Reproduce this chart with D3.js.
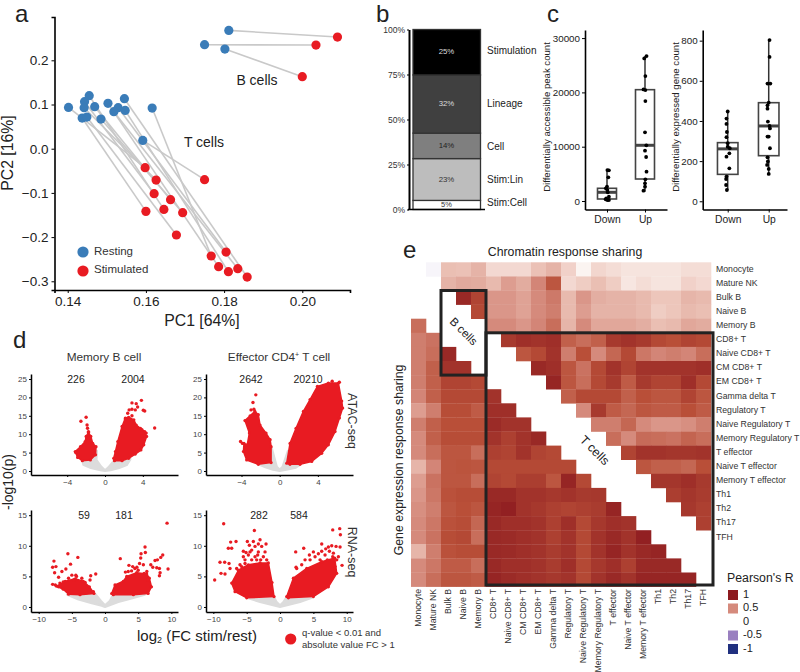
<!DOCTYPE html>
<html><head><meta charset="utf-8">
<script src="https://cdn.jsdelivr.net/npm/d3@7/dist/d3.min.js"></script>
<style>
html,body{margin:0;padding:0;background:#fff}
svg{display:block}
text{font-family:"Liberation Sans",Arial,sans-serif}
</style></head><body>
<svg id="c" width="800" height="672"></svg>
<script>
// ---------- panel a: PCA, [PC1, PC2]
const tRest=[[.1402,.0935],[.1443,.1063],[.1455,.1199],[.1442,.0928],[.1469,.095],[.1503,.1026],[.1545,.1131],[.1529,.0928],[.1518,.0837],[.1547,.0867],[.1616,.0920],[.1437,.0694],[.1449,.0716],[.1485,.0671],[.1592,.0188]];
const tStim=[[.1598,-.0430],[.1626,-.0709],[.1621,-.1018],[.1663,-.1154],[.1646,-.1373],[.1694,-.1448],[.1600,-.1418],[.1678,-.1953],[.1750,-.0701],[.1805,-.2338],[.1767,-.2428],[.1786,-.2670],[.1811,-.2783],[.1835,-.2715],[.1859,-.2904]];
const tPairs=[[0,0],[1,2],[2,4],[3,1],[4,3],[11,6],[12,7],[13,5],[5,11],[7,9],[6,14],[9,12],[8,13],[10,10],[14,8]];
const bRest=[[.1812,.2677],[.1750,.2353],[.1802,.2255]];
const bStim=[[.2090,.2526],[.2035,.2345],[.2000,.1629]];
const pcXTicks=[.14,.16,.18,.20], pcYTicks=[.2,.1,0,-.1,-.2,-.3];
// ---------- panel b: variance shares
const shareNames=["Stim:Cell","Stim:Lin","Cell","Lineage","Stimulation"];
const shareValues=[5,23,14,32,25];
const shareFills=["#ffffff","#bdbdbd","#7f7f7f","#404040","#000000"];
const shareText=["#333","#333","#222","#ddd","#ddd"];
const shareTicks=[0,25,50,75,100];
// ---------- panel c: [category + jitter, count]
const catNames=["Down","Up"];
const peakDown=[[.01,5700],[.05,5640],[.035,4360],[0,2640],[-.03,2330],[.01,2020],[.02,1600],[.05,800],[-.02,490],[.01,180],[.05,180],[-.035,310]];
const peakUp=[[1.04,26690],[.98,26260],[1.01,23000],[.96,20550],[1.01,20430],[1.01,18400],[1,12640],[1.035,10250],[1,9260],[1.03,8100],[1.04,5400],[1.01,3990],[1,3250],[1,2640],[.96,1900]];
const peakBox=[{lo:0,q1:370,med:1600,q3:2340,hi:5700},{lo:1700,q1:4050,med:10260,q3:20500,hi:26700}];
const geneDown=[[0,447],[-.03,412],[-.03,385],[-.02,345],[-.03,319],[0,289],[0,272],[.05,264],[.04,239],[-.03,222],[.04,164],[-.03,123],[-.04,111],[-.04,81],[-.02,56]];
const geneUp=[[1.02,803],[1.02,719],[.97,586],[1.04,586],[1,491],[.97,478],[.97,461],[.98,397],[1.02,375],[1.03,363],[1,322],[.97,322],[1.03,264],[.97,219],[.98,198],[.96,181],[1,161],[1,136]];
const geneBox=[{lo:56,q1:134,med:261,q3:292,hi:447},{lo:136,q1:227,med:375,q3:491,hi:803}];
const tlRedR=[[.92,3.45],[1.1,5.3],[1.35,8],[1.8,12.1],[2.15,14.4],[2.5,14.6],[3.05,13.9],[3.3,12.5],[3.75,11.6],[4.2,10.7],[4.4,9.4],[4.1,7.1],[3.8,5.7],[3.2,4.6],[2.5,3.45],[1.8,2.8],[1,2.8]];
const tlRedL=[[-3.15,5.3],[-2.6,6.6],[-2.1,8],[-2,9.4],[-1.75,10.5],[-1.5,9.4],[-1.3,7.5],[-.95,6.6],[-1,4.4],[-1.55,3],[-2.4,2.8],[-2.9,3.7]];
const tlGrey=[[-2.4,2.8],[-2.3,1.7],[-1.5,.8],[-.5,.2],[0,0],[.6,.2],[1.5,.8],[2.3,1.6],[2.7,3.2],[1,3],[.35,1],[0,.2],[-.4,1.2],[-.9,3],[-.85,5.5],[-1.2,4]];
const tlDots=[[5.25,11.7],[3.85,19.2],[3.45,17.4],[3.3,18.3],[2.85,18.5],[3.2,16.6],[2.85,16.8],[2.55,16.6],[2.4,15.7],[4.05,16.5],[4.2,16.3],[2.15,14.1],[2.85,15],[3.9,9.5],[4.35,10.3],[3.9,11.2],[-2.55,13.5],[-2,14.6],[-1.9,12.5],[-1.85,11.6],[-1.75,10.7],[-3.1,5]];
const trRedR=[[.73,2.1],[1.08,7.5],[1.71,11.6],[2.48,16.2],[3.18,19.4],[3.95,23],[5.1,23.9],[6.15,23.9],[6.5,19],[6.6,17.1],[6.26,14.4],[5.8,10.7],[5.1,7.1],[4.4,4.8],[3.36,2.6],[2.13,1.8],[1.08,1.8]];
const trRedL=[[-3.74,7.5],[-3.4,7.1],[-3.18,10.3],[-3.64,13.7],[-3.1,15],[-2.6,16.2],[-2.24,15.3],[-2.06,12.5],[-1.43,10.3],[-1,8.5],[-.9,6.6],[-.9,2.3],[-2.24,1.8],[-3.46,3],[-3.8,5.3]];
const trGrey=[[-2.24,1.8],[-1.5,1],[-.7,.3],[0,0],[.7,.3],[1.7,.9],[2.2,1.8],[.73,2],[.85,5.5],[.3,1.2],[0,.4],[-.3,1.2],[-.85,6.5],[-.9,2]];
const trDots=[[5.5,24.4],[6.25,24.1],[-2.5,20.7],[-2.8,18.6],[-2.7,16.8],[-3,16.6],[-4.1,8],[-3.9,7.5]];
const blRedR=[[1,2.2],[1.5,3.6],[2.76,4.2],[3.27,5],[4.77,5.6],[6.28,5.4],[6.68,4.7],[7,3.3],[6.5,2.2],[4.27,2],[1.25,2]];
const blRedL=[[-7.3,3.4],[-6,4.2],[-4.5,4.6],[-3.27,4.2],[-2.36,3.3],[-1.66,2.2],[-3.77,2],[-5.5,2.1],[-6.3,2.9]];
const blGrey=[[-5.7,2],[-4,1.2],[-2,.6],[-.5,.2],[0,0],[.5,.2],[2,.8],[4,1.4],[6,2],[1.2,2],[.7,1],[0,.3],[-.6,1],[-1.5,2.2]];
const blDots=[[9.35,13.7],[9.5,6.2],[6.03,9.8],[6.08,8.9],[5.43,8.7],[5.38,8],[2.3,7.9],[5.2,7.1],[5.78,6.9],[8.7,8.5],[8.4,8.1],[7.54,7.6],[7.9,7.7],[6.9,6.9],[7.2,6.5],[7.8,6.4],[8.2,6.3],[8.3,5.6],[8.2,5.1],[3.6,6.8],[3.07,5.7],[4.17,6.6],[4.8,6.5],[4,5.9],[5,6],[4.5,6.3],[3.5,5.8],[6.3,5.8],[5.9,5.5],[6.5,4.4],[-5.6,8.7],[-4.1,8.1],[-7.7,7.5],[-7.9,6.5],[-7.4,6.6],[-7.6,5.6],[-7.9,3.7],[-6.5,5.8],[-5.2,7],[-5.9,6.2],[-1.4,5.4],[-2.26,4.4],[-2.16,5.1],[-3,4],[-1.76,2.5],[-7,4.85],[-4.4,5.2],[-5,5.2],[-4.3,5],[-5.5,4.7],[-6.3,4.1],[-6.8,3.9],[-3.5,4.7],[-4.7,4.4],[-7.5,3.6],[-7,3.3]];
const brRedL=[[-7.25,3.9],[-6.25,6],[-4.75,6.9],[-3,7.2],[-1.75,7.2],[-1.2,4],[-.9,1.7],[-5,1.5],[-6.75,2.5]];
const brRedR=[[1,1.7],[2,4.7],[4,6.3],[6.25,7.4],[8.2,8],[8.5,5.5],[7.25,3.3],[5,1.7],[1.25,1.5]];
const brGrey=[[-5,1.5],[-3,.8],[-1.5,.4],[0,0],[1.5,.4],[3,.8],[5,1.6],[1,1.7],[.5,.8],[0,.3],[-.5,.8],[-.9,1.7]];
const brDots=[[-8.45,13.6],[-3.85,12.5],[-3,11],[-4,10.7],[-4.9,10.7],[-2.1,10.3],[-3.25,10.3],[-4.6,10.1],[-6.6,10.7],[-7.4,10.6],[-7.75,9.6],[-7.25,9.6],[-9,7.3],[-8.3,7.3],[-7.65,7.1],[-8.85,5.5],[-8.25,5.4],[-7.5,6.3],[-9.8,4.4],[-5.5,8.2],[-4.5,9],[-3.25,9],[-2.25,9],[-2.5,8.2],[-3.75,8.2],[-5.25,7.1],[-2,7.7],[-6,6.9],[-6.5,6.3],[-5.75,6.6],[-5.25,7.7],[-4.25,7.7],[-3.5,7.7],[-2.9,7.7],[-4.25,9.3],[-3.75,9.9],[-2.75,9.9],[-5.1,8.9],[-5.5,9.1],[-4.75,8.5],[-3.35,8.5],[7.9,12.6],[8.95,12.8],[9.05,11.8],[6.25,10.3],[7.25,9.8],[5,9],[2.35,9],[3.55,9.6],[8.4,9.9],[9,9.8],[7.75,10],[6.85,9.5],[8,8.8],[8.75,8.2],[9.3,6.8],[4.4,8.5],[2.4,6.5],[3.25,6.9],[8.5,7.7],[8.25,6.6],[3.75,7.7],[4.5,7.7],[5.25,8.2],[5.75,8.7],[6.25,9.1],[6.75,8.5],[7.4,9.1],[7.9,8.2],[7.1,7.7],[6,7.7],[2.5,6.3]];
const atacYTicks=[0,5,10,15,20,25], rnaYTicks=[0,5,10,15];
const atacXTicks=[-4,0,4], rnaXTicks=[-10,-5,0,5,10];
// ---------- panel e: Pearson's R
const cellTypes=["Monocyte","Mature NK","Bulk B","Naive B","Memory B","CD8+ T","Naive CD8+ T","CM CD8+ T","EM CD8+ T","Gamma delta T","Regulatory T","Naive Regulatory T","Memory Regulatory T","T effector","Naive T effector","Memory T effector","Th1","Th2","Th17","TFH"];
// chromatin: row i holds columns i+1 to 19
const chromatin=[
[-.04,.28,.27,.33,.17,.17,.17,.27,.33,.2,.05,.18,.15,.12,.12,.12,.12,.15,.15],
[.33,.37,.36,.3,.42,.36,.52,.72,.17,.22,.28,.22,.11,.15,.12,.12,.2,.17],
[.93,.8,.45,.45,.4,.5,.57,.3,.45,.35,.33,.33,.3,.25,.25,.32,.3],
[.78,.45,.45,.4,.5,.55,.3,.42,.33,.33,.33,.3,.22,.25,.3,.28],
[.5,.5,.45,.52,.62,.32,.5,.38,.38,.38,.35,.28,.3,.38,.36],
[.85,.9,.88,.9,.68,.62,.68,.85,.88,.85,.78,.75,.8,.78],
[.72,.78,.88,.55,.75,.5,.65,.78,.58,.52,.55,.52,.62],
[.93,.9,.72,.6,.78,.88,.8,.88,.88,.88,.88,.9],
[.95,.72,.62,.78,.85,.7,.85,.8,.8,.9,.78],
[.68,.78,.78,.78,.68,.75,.72,.72,.8,.72],
[.5,.85,.7,.65,.72,.7,.7,.75,.7],
[.55,.55,.65,.5,.45,.45,.48,.55],
[.62,.5,.63,.62,.6,.66,.62],
[.8,.88,.88,.87,.87,.88],
[.72,.68,.68,.65,.75],
[.87,.87,.9,.85],
[.83,.87,.84],
[.86,.82],
[.82]];
// expression: column c holds rows c+1 to 19
const expression=[
[.62,.55,.55,.55,.55,.52,.42,.55,.5,.5,.32,.42,.45,.48,.5,.5,.32,.5,.5],
[.6,.62,.68,.68,.68,.55,.68,.68,.62,.52,.6,.58,.55,.58,.6,.55,.58,.62],
[.93,.88,.8,.78,.76,.75,.76,.72,.72,.72,.74,.72,.74,.76,.74,.7,.72],
[.88,.8,.78,.76,.75,.76,.72,.73,.72,.76,.75,.76,.78,.76,.7,.72],
[.78,.78,.7,.75,.76,.62,.72,.62,.76,.72,.65,.62,.76,.62,.7],
[.88,.9,.92,.88,.82,.78,.8,.93,.95,.93,.93,.93,.93,.95],
[.9,.88,.82,.8,.78,.78,.93,.97,.9,.92,.92,.9,.92],
[.88,.88,.88,.78,.83,.88,.88,.9,.9,.9,.9,.9],
[.93,.8,.78,.83,.88,.86,.88,.88,.88,.88,.88],
[.78,.78,.72,.86,.82,.82,.82,.84,.84,.86],
[.78,.95,.88,.8,.9,.88,.88,.9,.88],
[.78,.85,.82,.78,.78,.78,.78,.78],
[.86,.84,.86,.88,.88,.86,.88],
[.95,.9,.93,.95,.9,.93],
[.88,.88,.88,.82,.88],
[.97,.93,.93,.95],
[.95,.93,.95],
[.93,.95],
[.95]];
const legendR=[1,.5,0,-.5,-1];

const svg=d3.select("#c");
const RED="#e81b22",BLUE="#3a7cb8",GREY="#dcdcdc",LINE="#c9c9c9";
function txt(x,y,s,size,o={}){
  const t=svg.append("text").attr("x",x).attr("y",y).attr("font-size",size).attr("fill",o.fill||"#222")
    .attr("text-anchor",o.anchor||"middle").attr("dominant-baseline",o.base||"middle").text(s);
  if(o.rot!==undefined) t.attr("transform",`rotate(${o.rot},${x},${y})`);
  return t;
}
function axis(a,at,sw,size,color,tickLen){
  const g=svg.append("g").attr("transform",at).call(a);
  g.select(".domain").attr("stroke","#000").attr("stroke-width",sw);
  g.selectAll(".tick line").attr("stroke","#000").attr("stroke-width",Math.max(1,sw*.6));
  g.selectAll(".tick text").attr("font-size",size).attr("fill",color).attr("font-family",'"Liberation Sans",Arial,sans-serif');
  return g;
}
const minus=s=>String(s).replace("-","\u2212");

// ===== a
{
 const x=d3.scaleLinear().domain([.13662,.2122]).range([54.5,350]);
 const y=d3.scaleLinear().domain([-.3197,.298]).range([290,17]);
 const seg=(r,s,p)=>svg.append("line").attr("x1",x(r[p[0]][0])).attr("y1",y(r[p[0]][1])).attr("x2",x(s[p[1]][0])).attr("y2",y(s[p[1]][1])).attr("stroke",LINE).attr("stroke-width",1.6);
 tPairs.forEach(p=>seg(tRest,tStim,p));
 [0,1,2].forEach(i=>seg(bRest,bStim,[i,i]));
 const dots=(d,c)=>svg.append("g").selectAll("circle").data(d).join("circle").attr("cx",p=>x(p[0])).attr("cy",p=>y(p[1])).attr("r",4.6).attr("fill",c);
 dots(tRest.concat(bRest),BLUE); dots(tStim.concat(bStim),RED);
 axis(d3.axisBottom(x).tickValues(pcXTicks).tickFormat(d3.format(".2f")).tickSizeOuter(0).tickSize(3).tickPadding(3),"translate(0,290)",1.6,13.5,"#222");
 axis(d3.axisLeft(y).tickValues(pcYTicks).tickFormat(d=>minus(d3.format(".1f")(d))).tickSizeOuter(0).tickSize(3).tickPadding(3),"translate(54.5,0)",1.6,13.5,"#222");
 txt(202,322,"PC1 [64%]",15.8);
 txt(9,153,"PC2 [16%]",15.8,{rot:-90});
 txt(257,81,"B cells",14);
 txt(204,143,"T cells",14);
 svg.append("circle").attr("cx",83).attr("cy",252).attr("r",5.6).attr("fill",BLUE);
 svg.append("circle").attr("cx",83).attr("cy",271).attr("r",5.6).attr("fill",RED);
 txt(94,252,"Resting",11.5,{anchor:"start",fill:"#333"});
 txt(94,270,"Stimulated",11.5,{anchor:"start",fill:"#333"});
}
// ===== b
{
 const y=d3.scaleLinear().domain([0,1]).range([209.5,29.5]);
 const row=Object.fromEntries(shareNames.map((n,i)=>[n,shareValues[i]]));
 const st=d3.stack().keys(shareNames).offset(d3.stackOffsetExpand)([row]);
 const labelY=[203,180,147,104,51];
 st.forEach((s,i)=>{
  const a=s[0][0],b=s[0][1];
  svg.append("rect").attr("x",413).attr("width",67.5).attr("y",y(b)).attr("height",y(a)-y(b)).attr("fill",shareFills[i]).attr("stroke","#333").attr("stroke-width",1.3);
  txt(446.5,(y(a)+y(b))/2,shareValues[i]+"%",i==0?7.5:7.8,{fill:shareText[i]});
  txt(487,labelY[i],shareNames[i],10,{anchor:"start",fill:"#222"});
 });
 axis(d3.axisLeft(y).tickValues(shareTicks.map(d=>d/100)).tickFormat(d=>Math.round(d*100)+"%").tickSize(2).tickSizeOuter(0).tickPadding(2),"translate(409,0)",2,8.5,"#333");
 svg.append("line").attr("x1",408).attr("x2",485).attr("y1",209.5).attr("y2",209.5).attr("stroke","#000").attr("stroke-width",1.6);
}
// ===== c
function boxPanel(x0,x1,dom,yDom,yTicks,boxes,sets,title,titleX){
 const x=d3.scaleLinear().domain(dom).range([x0,x1]);
 const y=d3.scaleLinear().domain(yDom).range([209.5,30]);
 boxes.forEach((b,i)=>{
  const cx=x(i),w=x(.25)-x(0);
  svg.append("line").attr("x1",cx).attr("x2",cx).attr("y1",y(b.lo)).attr("y2",y(b.hi)).attr("stroke","#333").attr("stroke-width",1.5);
  svg.append("rect").attr("x",cx-w).attr("width",2*w).attr("y",y(b.q3)).attr("height",y(b.q1)-y(b.q3)).attr("fill","#fff").attr("stroke","#444").attr("stroke-width",1.6);
  svg.append("line").attr("x1",cx-w).attr("x2",cx+w).attr("y1",y(b.med)).attr("y2",y(b.med)).attr("stroke","#444").attr("stroke-width",3);
 });
 sets.forEach(d=>svg.append("g").selectAll("circle").data(d).join("circle").attr("cx",p=>x(p[0])).attr("cy",p=>y(p[1])).attr("r",1.9).attr("fill","#000"));
 axis(d3.axisBottom(x).tickValues([0,1]).tickFormat(i=>catNames[i]).tickSize(3).tickSizeOuter(0).tickPadding(3),"translate(0,209.5)",1.6,10.3,"#222");
 axis(d3.axisLeft(y).tickValues(yTicks).tickFormat(d3.format("d")).tickSize(3).tickSizeOuter(0).tickPadding(2),`translate(${x0},0)`,1.6,9.8,"#222");
 txt(titleX,117,title,9.6,{rot:-90});
}
boxPanel(585,667,[-.579,1.579],[-1565,31490],[0,10000,20000,30000],peakBox,[peakDown,peakUp],"Differentially accessible peak count",547);
boxPanel(702.7,787,[-.61,1.446],[-41,853],[0,200,400,600,800],geneBox,[geneDown,geneUp],"Differentially expressed gene count",676);
// ===== d
function volcano(o){
 const x=d3.scaleLinear().domain(o.xd).range(o.xr), y=d3.scaleLinear().domain(o.yd).range(o.yr);
 const line=d3.line().x(p=>x(p[0])).y(p=>y(p[1])).curve(d3.curveLinearClosed);
 svg.append("path").attr("d",line(o.grey)).attr("fill",GREY).attr("stroke",GREY).attr("stroke-width",2).attr("stroke-linejoin","round");
 o.red.forEach(r=>{
  svg.append("path").attr("d",line(r)).attr("fill",RED).attr("stroke",RED).attr("stroke-width",1.5).attr("stroke-linejoin","round");
  svg.append("g").selectAll("circle").data(r).join("circle").attr("cx",p=>x(p[0])).attr("cy",p=>y(p[1])).attr("r",1.6).attr("fill",RED);
 });
 svg.append("g").selectAll("circle").data(o.dots).join("circle").attr("cx",p=>x(p[0])).attr("cy",p=>y(p[1])).attr("r",1.7).attr("fill",RED);
 axis(d3.axisBottom(x).tickValues(o.xt).tickFormat(minus).tickSize(2).tickSizeOuter(0).tickPadding(2),`translate(0,${o.yr[0]})`,1.5,8,"#444");
 axis(d3.axisLeft(y).tickValues(o.yt).tickSize(2).tickSizeOuter(0).tickPadding(2),`translate(${o.xr[0]},0)`,1.5,8,"#444");
 txt(o.n[0],o.ny,o.c[0],10.5); txt(o.n[1],o.ny,o.c[1],10.5);
}
volcano({xd:[-7.83,7.72],xr:[31,178],yd:[-1.09,26.36],yr:[475,374],grey:tlGrey,red:[tlRedR,tlRedL],dots:tlDots,xt:atacXTicks,yt:atacYTicks,n:[76,133],ny:380,c:["226","2004"]});
volcano({xd:[-7.72,7.68],xr:[206,353],yd:[-1.09,26.36],yr:[475,374],grey:trGrey,red:[trRedR,trRedL],dots:trDots,xt:atacXTicks,yt:atacYTicks,n:[251,308],ny:380,c:["2642","20210"]});
volcano({xd:[-11.16,11],xr:[31,178],yd:[-.82,15.85],yr:[612,510],grey:blGrey,red:[blRedR,blRedL],dots:blDots,xt:rnaXTicks,yt:rnaYTicks,n:[84,124],ny:516,c:["59","181"]});
volcano({xd:[-11.1,10.94],xr:[206,353],yd:[-.82,15.85],yr:[612,510],grey:brGrey,red:[brRedR,brRedL],dots:brDots,xt:rnaXTicks,yt:rnaYTicks,n:[259,299],ny:516,c:["282","584"]});
txt(104,358,"Memory B cell",11.8,{fill:"#333"});
{const t=txt(279,358,"",11.8,{fill:"#333"});
 t.append("tspan").text("Effector CD4");
 t.append("tspan").attr("dy",-3).attr("font-size",7).text("+");
 t.append("tspan").attr("dy",3).text(" T cell");}
txt(351,421,"ATAC-seq",12.5,{rot:90,fill:"#333"});
txt(351,552,"RNA-seq",12.5,{rot:90,fill:"#333"});
txt(9,482,"-log10(p)",14,{rot:-90});
{const t=txt(197,637,"",15,{});
 t.append("tspan").text("log");
 t.append("tspan").attr("dy",4).attr("font-size",9).text("2");
 t.append("tspan").attr("dy",-4).text(" (FC stim/rest)");}
svg.append("circle").attr("cx",290.7).attr("cy",639).attr("r",5.6).attr("fill",RED);
txt(302,633,"q-value < 0.01 and",9.5,{anchor:"start",fill:"#333"});
txt(302,645,"absolute value FC > 1",9.5,{anchor:"start",fill:"#333"});
// ===== e
{
 const color=d3.scaleLinear().domain([-1,-.5,0,.25,.5,.75,1]).range(["#20307f","#9a80c0","#ffffff","#edc6bb","#d58a7c","#b94f38","#8d1a1f"]);
 const x=d3.scaleBand().domain(d3.range(20)).range([411,711]);
 const y=d3.scaleBand().domain(d3.range(23)).range([262.3,586.6]);
 const up=[],lo=[];
 chromatin.forEach((r,i)=>r.forEach((v,k)=>up.push({r:i,c:i+1+k,v})));
 expression.forEach((col,c)=>col.forEach((v,k)=>lo.push({r:c+1+k+3,c,v})));
 svg.append("g").selectAll("rect").data(up.concat(lo)).join("rect")
  .attr("x",d=>x(d.c)).attr("y",d=>y(d.r)).attr("width",x.bandwidth()+.3).attr("height",y.bandwidth()+.3).attr("fill",d=>color(d.v));
 cellTypes.forEach((n,i)=>{
  txt(716,y(i)+y.bandwidth()/2,n,8.7,{anchor:"start",fill:"#333"});
  txt(x(i)+7.5,589,n,8.7,{anchor:"end",rot:-90,fill:"#333"});
 });
 const box=(x1,y1,x2,y2)=>svg.append("rect").attr("x",x1).attr("y",y1).attr("width",x2-x1).attr("height",y2-y1).attr("fill","none").attr("stroke","#222").attr("stroke-width",3);
 box(x(2),y(2),x(5),y(8));
 box(x(5),y(5),713,585);
 txt(565,253,"Chromatin response sharing",12.3,{fill:"#222"});
 txt(400,460,"Gene expression response sharing",12.3,{rot:-90,fill:"#222"});
 txt(463,332,"B cells",11.5,{rot:45});
 txt(594,451,"T cells",12.5,{rot:45});
 txt(727,579,"Pearson's R",12.3,{anchor:"start"});
 const ly=d3.scalePoint().domain(legendR).range([595,649]);
 legendR.forEach(v=>{
  svg.append("rect").attr("x",728).attr("y",ly(v)-5).attr("width",10).attr("height",10).attr("fill",color(v));
  txt(743,ly(v),String(v),11,{anchor:"start"});
 });
}
// panel letters
txt(15,22,"a",24,{anchor:"start",base:"auto"});
txt(376,22,"b",24,{anchor:"start",base:"auto"});
txt(547,22,"c",24,{anchor:"start",base:"auto"});
txt(13,348,"d",24,{anchor:"start",base:"auto"});
txt(403,258,"e",24,{anchor:"start",base:"auto"});
</script>
</body></html>
